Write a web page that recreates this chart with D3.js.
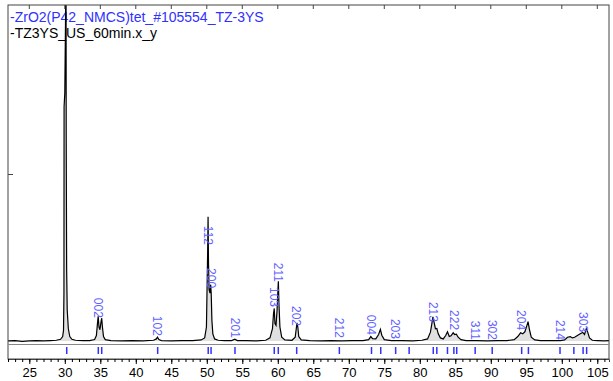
<!DOCTYPE html>
<html>
<head>
<meta charset="utf-8">
<script src="https://cdn.jsdelivr.net/npm/d3@7"></script>
<style>
  body { margin: 0; background: #fff; }
  svg { display: block; }
  text { font-family: "Liberation Sans", Arial, sans-serif; }
</style>
</head>
<body>
<svg id="chart" width="613" height="381"></svg>
<script>
let pattern = [
  [22.0,0.9],[23.0,1.0],[24.0,0.8],[25.0,0.9],[26.0,1.0],[27.0,0.9],[28.0,1.0],[28.8,1.1],
  [29.4,1.4],[29.7,2.2],[29.82,4],[29.88,15],[29.9,70],[30.0,74],[30.1,95],[30.17,115],
  [30.2,60],[30.26,22],[30.34,10],[30.5,4.5],[30.7,2.2],[31.0,1.4],[31.5,1.1],[32.5,1.0],
  [33.5,1.0],[34.2,1.3],[34.45,2.5],[34.6,6],[34.7,8.2],[34.82,5],[34.95,4.2],[35.1,6.5],
  [35.2,7.6],[35.3,5],[35.45,2.2],[35.7,1.3],[36.5,1.0],[38,0.9],[39.5,1.0],[41,0.9],
  [42.5,1.1],[42.9,1.5],[43.05,2.0],[43.25,1.3],[43.6,1.0],[45,0.9],[46.5,1.0],[48,1.0],
  [49.2,1.2],[49.7,1.8],[49.95,5],[50.05,18],[50.12,27],[50.18,37.5],[50.24,24],[50.32,16],
  [50.45,15],[50.55,17.5],[50.62,15],[50.72,7],[50.85,3],[51.1,1.5],[51.6,1.1],[52.5,1.0],
  [53.5,1.0],[53.95,1.4],[54.3,1.0],[55.5,1.0],[57,0.9],[58.3,1.1],[58.9,1.8],[59.25,4.5],
  [59.4,9],[59.5,10.5],[59.6,6],[59.75,5.5],[59.9,10],[60.0,15],[60.08,18.5],[60.16,12],
  [60.3,5],[60.55,2],[61,1.2],[62,1.1],[62.45,2],[62.6,4.5],[62.7,6.2],[62.82,5],
  [62.95,2.2],[63.3,1.2],[64.5,1.0],[66,0.9],[67.5,1.0],[69,0.9],[70.5,1.0],[72,1.0],
  [72.8,1.3],[73.1,2.2],[73.35,1.6],[73.8,1.5],[74.2,2.8],[74.45,4.3],[74.65,2.6],[75,1.3],
  [76,1.0],[77.5,1.0],[79,0.9],[80.3,1.1],[81.1,1.5],[81.5,3.5],[81.7,6],[81.85,8],
  [82.0,6.5],[82.2,4.5],[82.4,4.6],[82.6,3],[82.9,1.8],[83.3,1.5],[83.65,2.5],[83.9,3.6],
  [84.15,2.2],[84.4,2.4],[84.7,3.3],[84.9,2.8],[85.15,2.9],[85.4,2],[85.8,1.3],[86.5,1.0],
  [88,1.0],[89.5,0.9],[91,1.0],[92.3,1.0],[93.3,1.3],[93.8,2.2],[94.2,3.3],[94.5,3.0],
  [94.8,3.6],[95.05,5.2],[95.25,6.6],[95.45,4.2],[95.7,2],[96.2,1.2],[97,1.0],[98.5,1.0],
  [99.8,1.0],[100.4,1.2],[100.8,2.0],[101.2,2.2],[101.5,1.8],[101.8,2.0],[102.2,2.5],[102.6,3.0],
  [102.95,3.4],[103.2,2.8],[103.45,4.5],[103.65,3.5],[103.9,1.8],[104.3,1.1],[105,1.0],[106,0.9],
  [106.65,1.0]
];

// reference pattern (ZrO2 tetragonal) line positions
let refPos = [30.27, 34.72, 35.2, 43.08, 50.2, 50.6, 53.97, 59.5, 60.07, 62.66, 68.67,
  73.2, 74.5, 76.6, 78.5, 81.9, 82.4, 83.9, 84.8, 85.2, 87.8, 90.2, 94.35, 95.3,
  99.75, 101.7, 103.0, 103.5];

// hkl labels with the counts they sit at
let hklNames = ["002","102","112","200","201","103","211","202","212","004","203",
  "213","222","311","302","204","214","303"];
let hklPos = [34.72, 43.08, 50.2, 50.6, 53.97, 59.5, 60.07, 62.66, 68.67, 73.2, 76.6,
  81.9, 84.8, 87.8, 90.2, 94.35, 99.75, 103.0];
let hklLevel = [7.7, 2.4, 29.2, 16.5, 1.8, 10.9, 18.3, 5.3, 1.8, 2.7, 1.5,
  6.5, 4.1, 1.2, 1.2, 4.1, 1.2, 3.5];

let xTicks = [25, 30, 35, 40, 45, 50, 55, 60, 65, 70, 75, 80, 85, 90, 95, 100, 105];
let legendNames = ["-ZrO2(P42_NMCS)tet_#105554_TZ-3YS", "-TZ3YS_US_60min.x_y"];

let plotLeft = 8, plotRight = 609, plotTop = 5, plotBottom = 344, axisY = 359;
let svg = d3.select('#chart');

let xScale = d3.scaleLinear().domain([22, 106.65]).range([plotLeft, plotRight]);
let yScale = d3.scaleLinear().domain([0, 100]).range([plotBottom, plotTop]);

svg.append('clipPath').attr('id', 'clip')
  .append('rect')
  .attr('x', plotLeft).attr('y', plotTop)
  .attr('width', plotRight - plotLeft).attr('height', plotBottom - plotTop)
;

// legend
svg.selectAll('.legend')
  .data(legendNames).enter().append('text')
  .attr('x', 10)
  .attr('y', (d, i) => 22 + i * 15.5)
  .attr('font-size', 14)
  .attr('fill', (d, i) => i == 0 ? '#3030ff' : '#000')
  .text(d => d)
;

let plot = svg.append('g').attr('clip-path', 'url(#clip)');

// filled area under the pattern
let area = d3.area()
  .x(d => xScale(d[0]))
  .y0(yScale(0.9))
  .y1(d => yScale(d[1]));
plot.append('path')
  .datum(pattern)
  .attr('d', area)
  .attr('fill', '#e0e0e0')
;

let line = d3.line()
  .x(d => xScale(d[0]))
  .y(d => yScale(d[1]));
plot.append('path')
  .datum(pattern)
  .attr('d', line)
  .attr('fill', 'none')
  .attr('stroke', '#000')
  .attr('stroke-width', 1.2)
;

// hkl labels
plot.selectAll('.hkl')
  .data(hklNames).enter().append('text')
  .attr('transform', (d, i) => `translate(${xScale(hklPos[i])}, ${yScale(hklLevel[i])}) rotate(90)`)
  .attr('text-anchor', 'end')
  .attr('dy', '0.35em')
  .attr('font-size', 12)
  .attr('fill', '#6262ff')
  .text(d => d)
;

// reference sticks in the lower strip
svg.selectAll('.stick')
  .data(refPos).enter().append('line')
  .attr('x1', d => xScale(d)).attr('x2', d => xScale(d))
  .attr('y1', 347).attr('y2', 354)
  .attr('stroke', '#3030ff')
  .attr('stroke-width', 1.5)
;

// frame
svg.append('rect')
  .attr('x', plotLeft).attr('y', plotTop)
  .attr('width', plotRight - plotLeft).attr('height', axisY - plotTop)
  .attr('fill', 'none')
  .attr('stroke', '#444')
;
svg.append('line')
  .attr('x1', plotLeft).attr('x2', plotRight)
  .attr('y1', plotBottom + 0.5).attr('y2', plotBottom + 0.5)
  .attr('stroke', '#888')
;

// bottom axis
let xAxis = d3.axisBottom(xScale)
  .tickValues(d3.range(22, 107, 1))
  .tickSize(3)
  .tickFormat('');
svg.append('g')
  .attr('transform', `translate(0, ${axisY})`)
  .call(xAxis)
  .call(g => g.select('.domain').attr('stroke', '#444'))
;
let xAxisMajor = d3.axisBottom(xScale)
  .tickValues(xTicks)
  .tickSize(5)
  .tickPadding(4);
svg.append('g')
  .attr('transform', `translate(0, ${axisY})`)
  .call(xAxisMajor)
  .call(g => g.select('.domain').remove())
  .selectAll('text')
  .attr('font-size', 13)
  .attr('font-family', '"Liberation Sans", Arial, sans-serif')
;

// top ticks
svg.selectAll('.topTick')
  .data(xTicks).enter().append('line')
  .attr('x1', d => xScale(d)).attr('x2', d => xScale(d))
  .attr('y1', plotTop).attr('y2', plotTop + 4)
  .attr('stroke', '#444')
;

// left tick
svg.append('line')
  .attr('x1', plotLeft).attr('x2', plotLeft + 5)
  .attr('y1', yScale(50)).attr('y2', yScale(50))
  .attr('stroke', '#444')
;
</script>
</body>
</html>
